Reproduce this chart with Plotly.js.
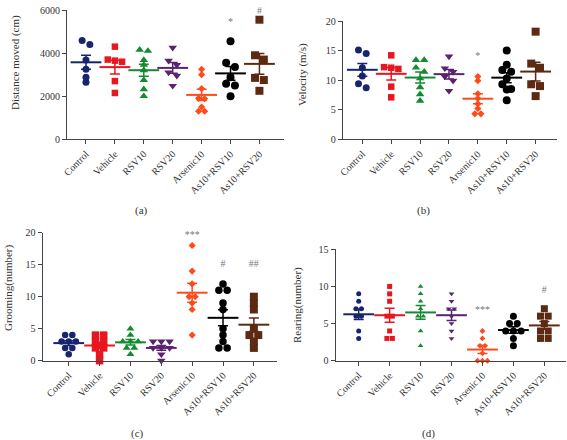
<!DOCTYPE html>
<html><head><meta charset="utf-8">
<script src="https://cdn.plot.ly/plotly-3.0.1.min.js"></script>
<style>html,body{margin:0;padding:0;background:#fff}#chart{width:567px;height:440px}</style>
</head><body><div id="chart"></div>
<script>
const categories = ['Control','Vehicle','RSV10','RSV20','Arsenic10','As10+RSV10','As10+RSV20'];

const distanceMoved = [
  [4580, 4400, 3680, 3250, 2880, 2650],
  [4300, 3700, 3650, 3600, 2700, 2150],
  [4150, 4100, 3680, 3450, 3200, 2750, 2320, 2000],
  [4250, 3650, 3450, 3100, 2950, 2480],
  [3250, 3000, 2350, 1900, 1880, 1500, 1300, 1300],
  [4550, 3550, 3350, 2880, 2580, 2500, 2000],
  [5550, 3900, 3700, 2850, 2750, 2250]
];
const velocity = [
  [15.1, 14.5, 12.1, 10.7, 9.4, 8.7],
  [14.2, 12.2, 12.1, 11.9, 8.9, 7.1],
  [13.4, 13.4, 12.1, 11.4, 10.3, 8.8, 7.6, 6.5],
  [14.0, 12.0, 11.4, 10.6, 9.9, 8.2],
  [10.6, 9.9, 7.7, 6.9, 6.0, 5.2, 4.3, 4.3],
  [15.0, 12.6, 11.7, 11.4, 10.3, 9.3, 8.5, 8.4, 6.6],
  [18.2, 12.8, 12.1, 9.3, 9.0, 7.3]
];
const grooming = [
  [4, 4, 3, 3, 3, 2, 2, 1],
  [4, 4, 3, 3, 2, 2, 1, 0],
  [5, 4, 3, 3, 3, 2, 2, 1],
  [3, 3, 3, 2, 2, 2, 1, 0],
  [18, 14, 12, 10, 10, 9, 8, 4],
  [12, 11, 11, 9, 8, 5, 4, 3, 2, 2],
  [10, 9, 8, 5, 4, 4, 3, 2]
];
const rearing = [
  [9, 8, 7, 7, 6, 6, 4, 3],
  [10, 9, 8, 6, 6, 4, 3, 3],
  [10, 9, 8, 7, 6, 6, 4, 2],
  [9, 8, 7, 7, 6, 5, 4, 3],
  [4, 3, 2, 2, 1, 0, 0, 0],
  [6, 5, 5, 4, 4, 4, 3, 2],
  [7, 6, 6, 5, 4, 4, 3, 3]
];

const distanceSig = ['', '', '', '', '', '*', '#'];
const velocitySig = ['', '', '', '', '*', '', '#'];
const groomingSig = ['', '', '', '', '***', '#', '##'];
const rearingSig  = ['', '', '', '', '***', '', '#'];

const groupColors = ['#16256e', '#e8161e', '#168a30', '#5a2370', '#ff4a1c', '#000000', '#5c2a12'];
const groupSymbols = ['circle', 'square', 'triangle-up', 'triangle-down', 'diamond', 'circle', 'square'];

const W = 567, H = 440;
const FONT = 'Liberation Serif, Times New Roman, serif';

const panels = [
  {data: distanceMoved, sig: distanceSig, sigY: [0,0,0,0,0,5400,5950],
   box: [67, 10, 284, 139.3], xr: [-0.657, 6.85], yr: [0, 6000], ticks: [0, 2000, 4000, 6000],
   title: 'Distance moved (cm)', titlePos: [15, 63], label: '(a)', labelPos: [141, 211],
   sizes: [7, 6.5, 7.5, 7.5, 5.5, 8, 8]},
  {data: velocity, sig: velocitySig, sigY: [0,0,0,0,14,0,20.3],
   box: [342.7, 21, 556.7, 139.3], xr: [-0.68, 6.73], yr: [0, 20], ticks: [0, 5, 10, 15, 20],
   title: 'Velocity (m/s)', titlePos: [303, 75], label: '(b)', labelPos: [423, 211],
   sizes: [7, 6.5, 7.5, 7.5, 5.5, 8, 8]},
  {data: grooming, sig: groomingSig, sigY: [0,0,0,0,19.6,15.0,15.0],
   box: [42.5, 232.7, 276.7, 360.7], xr: [-0.85, 6.74], yr: [0, 20], ticks: [0, 5, 10, 15, 20],
   title: 'Grooming(number)', titlePos: [8, 288], label: '(c)', labelPos: [137, 433],
   sizes: [6.5, 7.5, 7, 7.5, 5.5, 7.5, 8]},
  {data: rearing, sig: rearingSig, sigY: [0,0,0,0,6.7,0,9.5],
   box: [335.5, 249.3, 566, 360.7], xr: [-0.75, 6.7], yr: [0, 15], ticks: [0, 5, 10, 15],
   title: 'Rearing(number)', titlePos: [297, 305], label: '(d)', labelPos: [428, 433],
   sizes: [5, 5, 5, 5, 4.5, 7, 7]}
];

function swarmOffsets(vals, sizePx, pxPerY, pxPerX) {
  const idx = vals.map((v, i) => i).sort((a, b) => vals[b] - vals[a]);
  const offs = new Array(vals.length).fill(0);
  const rows = [];
  let cur = [idx[0]];
  for (let k = 1; k < idx.length; k++) {
    if ((vals[cur[0]] - vals[idx[k]]) * pxPerY < sizePx * 0.65) cur.push(idx[k]);
    else { rows.push(cur); cur = [idx[k]]; }
  }
  rows.push(cur);
  rows.forEach(r => r.forEach((id, j) => {
    offs[id] = (j - (r.length - 1) / 2) * sizePx * 1.1 / pxPerX;
  }));
  return offs;
}

const traces = [];
const layout = {
  width: W, height: H, margin: {l: 0, r: 0, t: 0, b: 0},
  paper_bgcolor: '#fff', plot_bgcolor: '#fff', showlegend: false,
  font: {family: FONT, size: 10, color: '#333'},
  annotations: []
};

panels.forEach((p, pi) => {
  const n = pi + 1;
  const xa = n === 1 ? 'xaxis' : 'xaxis' + n;
  const ya = n === 1 ? 'yaxis' : 'yaxis' + n;
  const xs = n === 1 ? 'x' : 'x' + n;
  const ys = n === 1 ? 'y' : 'y' + n;
  const [x0, y0, x1, y1] = p.box;
  const pxPerX = (x1 - x0) / (p.xr[1] - p.xr[0]);
  const pxPerY = (y1 - y0) / (p.yr[1] - p.yr[0]);

  layout[xa] = {
    domain: [x0 / W, x1 / W], range: p.xr, anchor: ys,
    tickmode: 'array', tickvals: categories.map((c, i) => i), ticktext: categories,
    tickangle: -45, ticks: 'outside', ticklen: 4, tickwidth: 1, tickcolor: '#444',
    showline: true, linecolor: '#444', linewidth: 1, showgrid: false, zeroline: false,
    tickfont: {family: FONT, size: 10, color: '#333'}, fixedrange: true
  };
  layout[ya] = {
    domain: [1 - y1 / H, 1 - y0 / H], range: p.yr, anchor: xs,
    tickmode: 'array', tickvals: p.ticks,
    ticks: 'outside', ticklen: 4, tickwidth: 1, tickcolor: '#444',
    showline: true, linecolor: '#444', linewidth: 1, showgrid: false, zeroline: false,
    tickfont: {family: FONT, size: 10, color: '#333'}, fixedrange: true
  };

  p.data.forEach((vals, gi) => {
    const size = p.sizes[gi];
    const offs = swarmOffsets(vals, size, pxPerY, pxPerX);
    traces.push({
      type: 'scatter', mode: 'markers', xaxis: xs, yaxis: ys, cliponaxis: false,
      x: vals.map((v, i) => gi + offs[i]), y: vals,
      marker: {symbol: groupSymbols[gi], size: size, color: groupColors[gi], line: {width: 0}},
      hoverinfo: 'y'
    });
    const m = vals.reduce((a, b) => a + b, 0) / vals.length;
    const sd = Math.sqrt(vals.reduce((a, b) => a + (b - m) * (b - m), 0) / (vals.length - 1));
    const sem = sd / Math.sqrt(vals.length);
    traces.push({
      type: 'scatter', mode: 'markers', xaxis: xs, yaxis: ys, cliponaxis: false,
      x: [gi], y: [m],
      marker: {symbol: 'line-ew', size: 22, color: groupColors[gi], line: {width: 2, color: groupColors[gi]}},
      error_y: {type: 'data', array: [sem], visible: true, color: groupColors[gi], thickness: 1.5, width: 5},
      hoverinfo: 'y'
    });
    if (p.sig[gi]) {
      traces.push({
        type: 'scatter', mode: 'text', xaxis: xs, yaxis: ys, cliponaxis: false,
        x: [gi], y: [p.sigY[gi]], text: [p.sig[gi]],
        textfont: {family: FONT, size: 10, color: '#777'}, hoverinfo: 'skip'
      });
    }
  });

  layout.annotations.push({
    xref: 'paper', yref: 'paper', x: p.titlePos[0] / W, y: 1 - p.titlePos[1] / H,
    text: p.title, textangle: -90, showarrow: false,
    font: {family: FONT, size: 11, color: '#333'}, xanchor: 'center', yanchor: 'middle'
  });
  layout.annotations.push({
    xref: 'paper', yref: 'paper', x: p.labelPos[0] / W, y: 1 - p.labelPos[1] / H,
    text: p.label, showarrow: false,
    font: {family: FONT, size: 11, color: '#333'}, xanchor: 'center', yanchor: 'middle'
  });
});

Plotly.newPlot('chart', traces, layout, {displayModeBar: false, staticPlot: true});
</script>
</body></html>
